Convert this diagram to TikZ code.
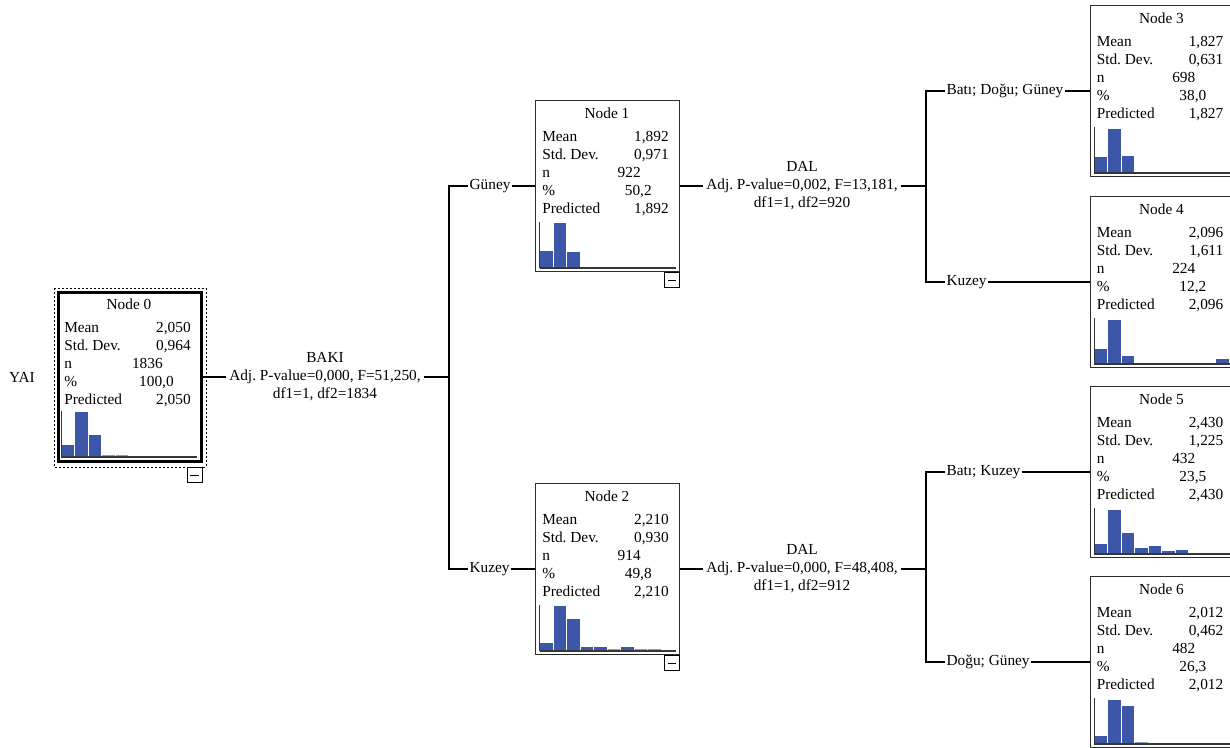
\documentclass[tikz,border=0pt]{standalone}
\usepackage{fontspec}
\setmainfont{Liberation Serif}
\usetikzlibrary{calc}
\definecolor{boxgray}{RGB}{45,45,45}
\definecolor{histblue}{RGB}{61,87,168}
\definecolor{axisgray}{RGB}{55,55,55}
\tikzstyle{treebox} = [rectangle, draw=boxgray, line width=0.75pt, fill=white, minimum width=108pt, minimum height=128.25pt, inner sep=0pt]
\tikzstyle{rootbox} = [treebox, draw=black, line width=2.25pt, minimum width=106.9pt, minimum height=126.75pt]
\tikzstyle{selbox} = [draw=black, line width=0.6pt, dash pattern=on 1.5pt off 1.5pt]
\tikzstyle{hdr} = [anchor=base, inner sep=0pt]
\tikzstyle{lbl} = [anchor=base west, inner sep=0pt]
\tikzstyle{val} = [anchor=base east, inner sep=0pt]
\tikzstyle{minusbox} = [rectangle, draw=black, line width=0.6pt, fill=white, minimum width=11.25pt, minimum height=11.25pt, inner sep=0pt, path picture={\draw[line width=0.6pt] ([xshift=2.5pt]path picture bounding box.west) -- ([xshift=-2.5pt]path picture bounding box.east);}]
\tikzstyle{split} = [align=center, inner sep=2pt]
\tikzstyle{branch} = [anchor=west, inner sep=1pt, text height=1.5ex, text depth=0.25ex]
\tikzstyle{link} = [draw=black, line width=0.9pt]

\newcommand{\histlift}{4}
% #1 box style, #2 name, #3 position, #4 number, #5 mean, #6 std dev, #7 n, #8 percent, #9 bar heights
\newcommand{\statbox}[9][treebox]{%
  \node[#1] (#2) at #3 {};
  \node[hdr] (#2h) at ([shift={(72,18)}]#2.north west) {Node #4};
  \node[lbl] (#2a) at ([shift={(7,41)}]#2.north west) {Mean};
  \node[val] (#2b) at ([shift={(134,41)}]#2.north west) {#5};
  \node[lbl] (#2c) at ([shift={(7,59)}]#2.north west) {Std. Dev.};
  \node[val] (#2d) at ([shift={(134,59)}]#2.north west) {#6};
  \node[lbl] (#2e) at ([shift={(7,77)}]#2.north west) {n};
  \node[val] (#2f) at ([shift={(106,77)}]#2.north west) {#7};
  \node[lbl] (#2g) at ([shift={(7,95)}]#2.north west) {\%};
  \node[val] (#2i) at ([shift={(117,95)}]#2.north west) {#8};
  \node[lbl] (#2j) at ([shift={(7,113)}]#2.north west) {Predicted};
  \node[val] (#2k) at ([shift={(134,113)}]#2.north west) {#5};
  % histogram
  \coordinate (#2o) at ([shift={(4.5,-\histlift)}]#2.south west);
  \foreach \hh [count=\k from 0] in {#9}{
    \pgfmathtruncatemacro\barcol{ifthenelse(\hh<3,60,100)}
    \fill[histblue!\barcol] ([shift={(\k*13.5+0.5,0)}]#2o) rectangle ++(12.5,-\hh);
  }
  \draw[axisgray, line width=0.75pt] ([shift={(0,-46)}]#2o) -- (#2o);
  \draw[axisgray, line width=1.2pt] (#2o) -- ++(136,0);
}

\begin{document}
\begin{tikzpicture}[x=0.75pt, y=-0.75pt, font=\fontsize{11.5}{13.5}\selectfont\frenchspacing]

\useasboundingbox (0,0) rectangle (1230,747);
\fill[white] (0,0) rectangle (1230,747);
\clip (0,0) rectangle (1230,747);

\node (yai) at (22,377) {YAI};

\renewcommand{\histlift}{6}
\statbox[rootbox]{n0}{(129.75,377)}{0}{2,050}{0,964}{1836}{100,0}{12,45,22,2.5,2.5,1.5,1.5,0,0,1.5}
\renewcommand{\histlift}{4}
\draw[selbox] ([shift={(-2.5,-3)}]n0.north west) rectangle ([shift={(3.5,4)}]n0.south east);
\node[minusbox, anchor=north east] (n0m) at ([shift={(0,4)}]n0.south east) {};

\statbox{n1}{(607.5,186)}{1}{1,892}{0,971}{922}{50,2}{17,45,16,1.5,1.5,1.5,0,0,0,1.5}
\node[minusbox, anchor=north east] (n1m) at (n1.south east) {};
\statbox{n2}{(607.5,569)}{2}{2,210}{0,930}{914}{49,8}{8,45,32,4.5,4.5,2.3,3.7,2.3,2.3,0}
\node[minusbox, anchor=north east] (n2m) at (n2.south east) {};

\statbox{n3}{(1162,91)}{3}{1,827}{0,631}{698}{38,0}{16,44,17,1.5,1.5,1.5,1.5,0,0,0}
\statbox{n4}{(1162,282)}{4}{2,096}{1,611}{224}{12,2}{15,44,8,0,0,0,0,0,0,5.5}
\statbox{n5}{(1162,472)}{5}{2,430}{1,225}{432}{23,5}{10,44,21,5.7,8.3,3,4,1.3,1.3,0}
\statbox{n6}{(1162,662)}{6}{2,012}{0,462}{482}{26,3}{8,44,38,1.7,0,0,0,0,0,0}

% split on BAKI
\node[split] (t0) at (325,377) {BAKI\\Adj. P-value=0,000, F=51,250,\\df1=1, df2=1834};
\coordinate (s0) at (449,377);
\node[branch] (b1) at (468,186) {Güney};
\node[branch] (b2) at (468,569) {Kuzey};
\draw[link] (n0) -- (t0);
\draw[link] (t0) -- (s0);
\draw[link] (s0) |- (b1);
\draw[link] (b1) -- (n1);
\draw[link] (s0) |- (b2);
\draw[link] (b2) -- (n2);

% split on DAL (node 1)
\node[split] (t1) at (802,186) {DAL\\Adj. P-value=0,002, F=13,181,\\df1=1, df2=920};
\coordinate (s1) at (926,186);
\node[branch] (b3) at (945,91) {Batı; Doğu; Güney};
\node[branch] (b4) at (945,282) {Kuzey};
\draw[link] (n1) -- (t1);
\draw[link] (t1) -- (s1);
\draw[link] (s1) |- (b3);
\draw[link] (b3) -- (n3);
\draw[link] (s1) |- (b4);
\draw[link] (b4) -- (n4);

% split on DAL (node 2)
\node[split] (t2) at (802,569) {DAL\\Adj. P-value=0,000, F=48,408,\\df1=1, df2=912};
\coordinate (s2) at (926,569);
\node[branch] (b5) at (945,472) {Batı; Kuzey};
\node[branch] (b6) at (945,662) {Doğu; Güney};
\draw[link] (n2) -- (t2);
\draw[link] (t2) -- (s2);
\draw[link] (s2) |- (b5);
\draw[link] (b5) -- (n5);
\draw[link] (s2) |- (b6);
\draw[link] (b6) -- (n6);

\end{tikzpicture}
\end{document}
